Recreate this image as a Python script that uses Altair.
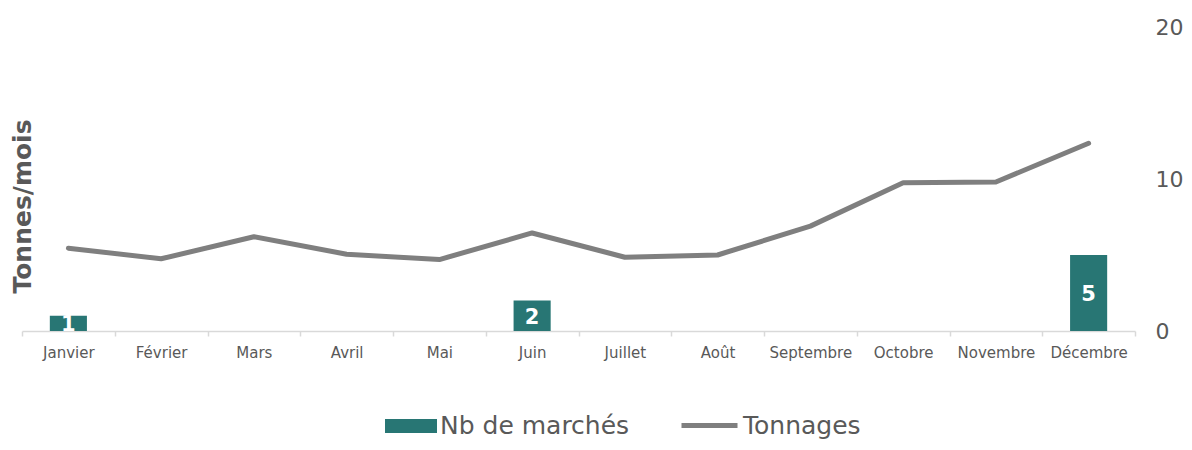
import altair as alt
import pandas as pd

months = ["Janvier", "Février", "Mars", "Avril", "Mai", "Juin", "Juillet",
          "Août", "Septembre", "Octobre", "Novembre", "Décembre"]
nb_marches = [1, 0, 0, 0, 0, 2, 0, 0, 0, 0, 0, 5]
tonnages = [5.45, 4.75, 6.2, 5.05, 4.7, 6.45, 4.85, 5.0, 6.9, 9.75, 9.8, 12.35]

df = pd.DataFrame({"mois": months, "nb": nb_marches, "t": tonnages})
df["s_bar"] = "Nb de marchés"
df["s_line"] = "Tonnages"

FONT = "DejaVu Sans"
GREY = "#595959"
TEAL = "#287674"
LGREY = "#7f7f7f"

xenc = alt.X("mois:N", sort=months, title=None,
             scale=alt.Scale(paddingInner=0, paddingOuter=0),
             axis=alt.Axis(labelAngle=0, labelFont=FONT, labelFontSize=15,
                           labelColor=GREY, domainColor="#d9d9d9", domainWidth=1.5,
                           tickColor="#d9d9d9", tickWidth=1.5, tickSize=5,
                           tickBand="extent", labelPadding=9, grid=False))

yscale = alt.Scale(domain=[0, 20])

bars = alt.Chart(df).mark_bar(width=alt.RelativeBandSize(0.4)).encode(
    x=xenc,
    y=alt.Y("nb:Q", scale=yscale, title=None,
            axis=alt.Axis(orient="right", values=[0, 10, 20], labelFont=FONT,
                          labelFontSize=22, labelColor=GREY, ticks=False,
                          domain=False, grid=False, labelPadding=20)),
    fill=alt.Fill("s_bar:N", title=None,
                  scale=alt.Scale(domain=["Nb de marchés"], range=[TEAL]),
                  legend=alt.Legend(orient="none", legendX=363, legendY=373,
                                    symbolType="M-1,-0.27H1V0.27H-1Z",
                                    symbolSize=2704, symbolStrokeWidth=0,
                                    symbolFillColor=TEAL, symbolOpacity=1,
                                    labelFont=FONT, labelFontSize=25,
                                    labelLimit=400,
                                    labelColor=GREY, labelOffset=3)),
)

labels = alt.Chart(df).transform_filter("datum.nb > 0").transform_calculate(
    mid="datum.nb / 2"
).mark_text(font=FONT, fontSize=21, fontWeight="bold", color="white",
            baseline="middle", dy=2).encode(
    x=alt.X("mois:N", sort=months),
    y=alt.Y("mid:Q", scale=yscale, axis=None),
    text="nb:Q",
)

line = alt.Chart(df).mark_line(strokeWidth=5, strokeCap="round",
                               strokeJoin="round").encode(
    x=alt.X("mois:N", sort=months),
    y=alt.Y("t:Q", scale=yscale, title="Tonnes/mois",
            axis=alt.Axis(orient="left", labels=False, ticks=False, domain=False,
                          grid=False, titleFont=FONT, titleFontSize=25,
                          titleFontWeight="bold", titleColor=GREY,
                          titleAngle=-90, titleX=8, titleY=179,
                          titleAlign="center", titleBaseline="alphabetic")),
    stroke=alt.Stroke("s_line:N", title=None,
                      scale=alt.Scale(domain=["Tonnages"], range=[LGREY]),
                      legend=alt.Legend(orient="none", legendX=657, legendY=368,
                                        symbolType="stroke", symbolSize=3136,
                                        symbolStrokeWidth=5,
                                        labelFont=FONT, labelFontSize=25,
                                        labelLimit=400,
                                        labelColor=GREY, labelOffset=3)),
)

chart = alt.layer(bars, labels, line).resolve_axis(y="independent").resolve_scale(
    fill="independent", stroke="independent"
).properties(
    width=1113, height=304,
    autosize=alt.AutoSizeParams(type="none"),
    padding={"left": 14, "top": 19, "right": 49, "bottom": 111},
).configure_view(stroke=None)

chart.save("out.html", embed_options={"renderer": "svg", "actions": False})
